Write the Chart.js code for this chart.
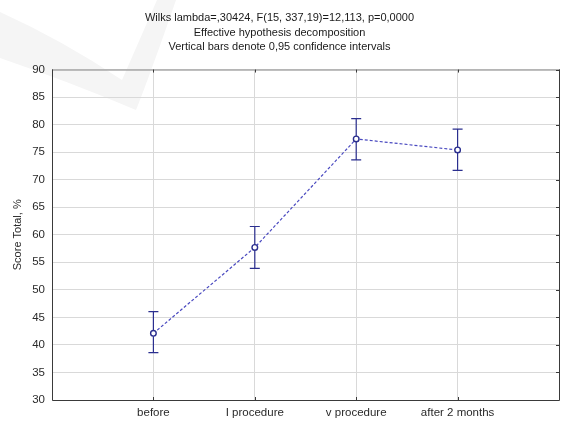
<!DOCTYPE html>
<html><head><meta charset="utf-8">
<script src="https://cdn.jsdelivr.net/npm/chart.js@4/dist/chart.umd.min.js"></script>
<style>html,body{margin:0;padding:0;background:#fff;}#wrap{width:574px;height:421px;position:relative;}</style>
</head><body><div id="wrap"><canvas id="c" width="574" height="421"></canvas></div>
<script>
const categories = ['before', 'I procedure', 'v procedure', 'after 2 months'];
const means = [42.1, 57.7, 77.4, 75.4];
const lowerCI = [38.6, 53.9, 73.6, 71.7];
const upperCI = [46.05, 61.5, 81.1, 79.2];
const yTickValues = [30, 35, 40, 45, 50, 55, 60, 65, 70, 75, 80, 85, 90];
const titleLines = [
  'Wilks lambda=,30424, F(15, 337,19)=12,113, p=0,0000',
  'Effective hypothesis decomposition',
  'Vertical bars denote 0,95 confidence intervals'
];
const yAxisTitle = 'Score Total, %';

const FONT = '"Liberation Sans", Arial, sans-serif';
const points = means.map((m, i) => ({ x: i + 1, y: m }));

const watermark = {
  id: 'watermark',
  beforeDraw(chart) {
    const { ctx } = chart;
    ctx.save();
    ctx.fillStyle = '#f5f5f5';
    ctx.beginPath();
    ctx.moveTo(0, 12);
    ctx.quadraticCurveTo(62, 40, 122, 80);
    ctx.lineTo(157, 0);
    ctx.lineTo(176, 0);
    ctx.quadraticCurveTo(150, 75, 136, 110);
    ctx.quadraticCurveTo(70, 82, 0, 58);
    ctx.closePath();
    ctx.fill();
    ctx.restore();
  }
};

const errorBars = {
  id: 'errorBars',
  beforeDatasetsDraw(chart) {
    const { ctx, scales: { x, y } } = chart;
    ctx.save();
    ctx.strokeStyle = '#2b2f8f';
    ctx.lineWidth = 1.2;
    means.forEach((m, i) => {
      const px = x.getPixelForValue(i + 1);
      const lo = y.getPixelForValue(lowerCI[i]);
      const hi = y.getPixelForValue(upperCI[i]);
      ctx.beginPath();
      ctx.moveTo(px, lo); ctx.lineTo(px, hi);
      ctx.moveTo(px - 5, lo); ctx.lineTo(px + 5, lo);
      ctx.moveTo(px - 5, hi); ctx.lineTo(px + 5, hi);
      ctx.stroke();
    });
    ctx.restore();
  }
};

const frame = {
  id: 'frame',
  afterDraw(chart) {
    const { ctx, chartArea: a, scales: { x, y } } = chart;
    ctx.save();
    ctx.lineWidth = 1;
    ctx.strokeStyle = '#3a3a3a';
    ctx.beginPath();
    ctx.moveTo(a.left + 0.5, a.top); ctx.lineTo(a.left + 0.5, a.bottom + 0.5);
    ctx.lineTo(a.right + 0.5, a.bottom + 0.5); ctx.lineTo(a.right + 0.5, a.top);
    ctx.stroke();
    ctx.strokeStyle = '#8a8a8a';
    ctx.beginPath();
    ctx.moveTo(a.left, a.top + 0.5); ctx.lineTo(a.right + 1, a.top + 0.5);
    ctx.stroke();
    ctx.strokeStyle = '#3a3a3a';
    ctx.beginPath();
    x.ticks.forEach(t => {
      const px = Math.round(x.getPixelForValue(t.value)) + 0.5;
      ctx.moveTo(px, a.bottom); ctx.lineTo(px, a.bottom - 3);
      ctx.moveTo(px, a.top); ctx.lineTo(px, a.top + 3);
    });
    y.ticks.forEach(t => {
      const py = Math.round(y.getPixelForValue(t.value)) + 0.5;
      ctx.moveTo(a.right, py); ctx.lineTo(a.right - 3, py);
    });
    ctx.stroke();
    ctx.restore();
  }
};

new Chart(document.getElementById('c'), {
  type: 'line',
  data: {
    datasets: [{
      data: points,
      borderColor: '#4a4ac0',
      borderWidth: 1.2,
      borderDash: [3, 2],
      pointRadius: 2.8,
      pointBorderWidth: 1.4,
      pointBorderColor: '#2b2f8f',
      pointBackgroundColor: '#ffffff',
      tension: 0,
      fill: false
    }]
  },
  options: {
    responsive: false,
    animation: false,
    devicePixelRatio: 1,
    layout: { padding: { left: 0, right: 15, top: 0, bottom: 0 } },
    plugins: {
      legend: { display: false },
      tooltip: { enabled: false },
      title: {
        display: true,
        text: titleLines,
        color: '#1a1a1a',
        font: { family: FONT, size: 11, weight: 'normal', lineHeight: 1.32 },
        padding: { top: 11, bottom: 15 }
      }
    },
    scales: {
      x: {
        type: 'linear',
        min: 0, max: 5,
        afterBuildTicks: s => { s.ticks = [0, 1, 2, 3, 4, 5].map(v => ({ value: v })); },
        afterFit: s => { s.height = 21; },
        ticks: {
          callback: v => categories[v - 1] || '',
          color: '#2a2a2a',
          font: { family: FONT, size: 11.5 },
          padding: 6,
          maxRotation: 0,
          autoSkip: false
        },
        grid: { color: '#d9d9d9', drawTicks: false },
        border: { display: false }
      },
      y: {
        type: 'linear',
        min: 30, max: 90,
        afterBuildTicks: s => { s.ticks = yTickValues.map(v => ({ value: v })); },
        afterFit: s => { s.width = 52; },
        ticks: {
          color: '#2a2a2a',
          font: { family: FONT, size: 11.5 },
          padding: 7
        },
        grid: { color: '#d9d9d9', drawTicks: false },
        border: { display: false },
        title: {
          display: true,
          text: yAxisTitle,
          color: '#2a2a2a',
          font: { family: FONT, size: 11 },
          padding: { top: 11, bottom: 0 }
        }
      }
    }
  },
  plugins: [watermark, errorBars, frame]
});
</script></body></html>
